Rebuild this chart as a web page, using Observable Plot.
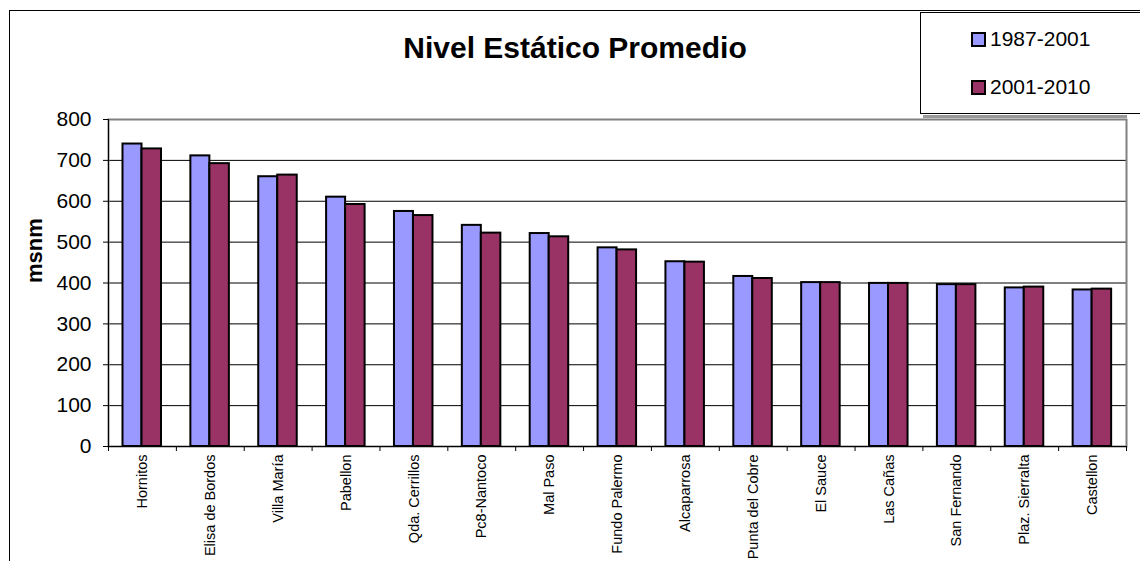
<!DOCTYPE html>
<html>
<head>
<meta charset="utf-8">
<script src="https://cdn.jsdelivr.net/npm/d3@7"></script>
<script src="https://cdn.jsdelivr.net/npm/@observablehq/plot@0.6"></script>
<style>
  html, body { margin: 0; padding: 0; background: #fff; }
  #wrap { position: relative; width: 1140px; height: 561px; overflow: hidden; font-family: "Liberation Sans", Arial, sans-serif; }
  #chart { position: absolute; left: 0; top: 0; }
  .frameTop { position: absolute; left: 9px; top: 10px; width: 1131px; height: 0; border-top: 1px solid #000; }
  .frameLeft { position: absolute; left: 9px; top: 10px; width: 0; height: 551px; border-left: 1px solid #000; }
  #title { position: absolute; left: 0; width: 1150px; top: 31px; text-align: center; font-weight: bold; font-size: 30px; color: #000; }
  #legend { position: absolute; left: 920px; top: 12px; width: 240px; height: 100px; border: 1px solid #000; background: #fff; }
  #legendShadow { position: absolute; left: 923px; top: 115px; width: 204px; height: 3px; background: #999; }
  .item { position: absolute; left: 50px; font-size: 21px; line-height: 24px; color: #000; }
  .sw { display: inline-block; width: 11px; height: 11px; border: 2px solid #000; margin-right: 4px; vertical-align: -1px; }
</style>
</head>
<body>
<div id="wrap">
  <div id="chart"></div>
  <div class="frameTop"></div>
  <div class="frameLeft"></div>
  <div id="title">Nivel Estático Promedio</div>
  <div id="legendShadow"></div>
  <div id="legend"></div>
</div>
<script>
const categories = ["Hornitos", "Elisa de Bordos", "Villa María", "Pabellon", "Qda. Cerrillos", "Pc8-Nantoco", "Mal Paso", "Fundo Palermo", "Alcaparrosa", "Punta del Cobre", "El Sauce", "Las Cañas", "San Fernando", "Plaz. Sierralta", "Castellon"];
const series = ["1987-2001", "2001-2010"];
const values1987 = [740, 711, 660, 610, 575, 541, 521, 486, 452, 416, 401, 399, 396, 388, 383];
const values2001 = [728, 692, 664, 592, 565, 522, 513, 481, 451, 411, 401, 399, 396, 390, 385];
const colors = ["#9999FF", "#993366"];
const yTicks = [0, 100, 200, 300, 400, 500, 600, 700, 800];
const gridTicks = [100, 200, 300, 400, 500, 600, 700];

const W = 1140, H = 561, ML = 108, MR = 14, MT = 119, MB = 115;
const bw = (W - ML - MR) / categories.length;

const rows1 = categories.map((c, i) => ({cat: c, value: values1987[i]}));
const rows2 = categories.map((c, i) => ({cat: c, value: values2001[i]}));

const chart = Plot.plot({
  width: W,
  height: H,
  marginLeft: ML,
  marginRight: MR,
  marginTop: MT,
  marginBottom: MB,
  style: {fontFamily: "'Liberation Sans', Arial, sans-serif", color: "#000", background: "transparent"},
  x: {domain: categories, padding: 0, round: false},
  y: {domain: [0, 800]},
  marks: [
    Plot.ruleY(gridTicks, {stroke: "#000", strokeWidth: 1}),
    Plot.frame({stroke: "#808080", strokeWidth: 2}),
    Plot.barY(rows1, {x: "cat", y: "value", fill: colors[0], stroke: "#000", strokeWidth: 2, insetLeft: 14.5, insetRight: bw - 33.5}),
    Plot.barY(rows2, {x: "cat", y: "value", fill: colors[1], stroke: "#000", strokeWidth: 2, insetLeft: 33.5, insetRight: bw - 53}),
    Plot.frame({anchor: "left", stroke: "#000", strokeWidth: 1}),
    Plot.frame({anchor: "bottom", stroke: "#000", strokeWidth: 1}),
    Plot.axisY({ticks: yTicks, tickSize: 5, tickPadding: 12, fontSize: 21, label: null}),
    Plot.axisX({ticks: categories, tickSize: 5, tickFormat: () => "", dx: -bw / 2, label: null}),
    Plot.axisX({ticks: [categories[categories.length - 1]], tickSize: 5, tickFormat: () => "", dx: bw / 2, label: null}),
    Plot.axisX({tickSize: 0, tickPadding: 8, tickRotate: -90, fontSize: 14.5, label: null}),
    Plot.text(["msnm"], {frameAnchor: "left", dx: -74, rotate: -90, fontSize: 22, fontWeight: "bold", text: d => d})
  ]
});
document.getElementById("chart").appendChild(chart);

const legend = document.getElementById("legend");
series.forEach((s, i) => {
  const d = document.createElement("div");
  d.className = "item";
  d.style.top = (i === 0 ? 14 : 62) + "px";
  d.innerHTML = `<span class="sw" style="background:${colors[i]}"></span>${s}`;
  legend.appendChild(d);
});
</script>
</body>
</html>
